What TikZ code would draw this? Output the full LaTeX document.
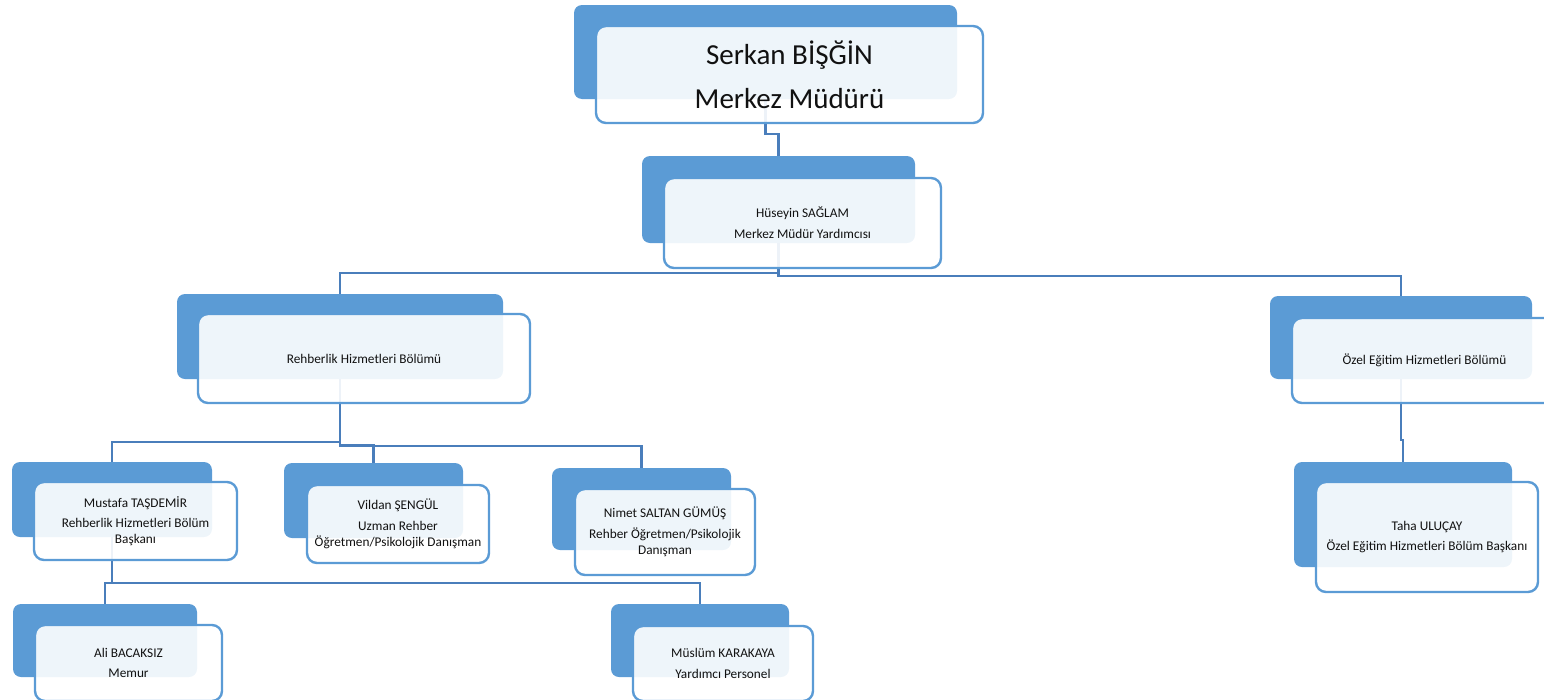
\documentclass[tikz,border=0pt]{standalone}
\usepackage{fontspec}
\setmainfont{Carlito}
\usetikzlibrary{backgrounds}
\definecolor{boxblue}{HTML}{5B9BD5}
\definecolor{linkblue}{HTML}{4A7EBB}
\definecolor{txt}{HTML}{111111}
\tikzset{
  backbox/.style={rectangle, rounded corners=8pt, fill=boxblue, draw=none, inner sep=0pt},
  frontbox/.style={rectangle, rounded corners=10pt, draw=boxblue, line width=2.4pt,
     fill=white, fill opacity=0.9, text opacity=1, text=txt, align=center, inner sep=0pt,
     font=\fontsize{13.3}{16}\selectfont},
  bigtext/.style={font=\fontsize{29}{35}\selectfont},
  link/.style={draw=linkblue, line width=2.6pt},
}
\begin{document}
\begin{tikzpicture}[x=1pt,y=-1pt]
\useasboundingbox (0,0) rectangle (1544,699);
\clip (0,0) rectangle (1544,699);
% Serkan
\node[backbox, minimum width=383, minimum height=94] (b1) at (765.5,52) {};
\node[frontbox, bigtext, minimum width=387, minimum height=97] (f1) at (789.5,74.5)
  {Serkan BİŞĞİN\\[9pt]Merkez Müdürü};
% Huseyin
\node[backbox, minimum width=273, minimum height=87] (b2) at (778.5,199.5) {};
\node[frontbox, minimum width=277, minimum height=90] (f2) at (802.5,223)
  {Hüseyin SAĞLAM\\[5pt]Merkez Müdür Yardımcısı};
% Rehberlik
\node[backbox, minimum width=326, minimum height=85] (b3) at (340,336.5) {};
\node[frontbox, minimum width=332, minimum height=89] (f3) at (364,358.5)
  {Rehberlik Hizmetleri Bölümü};
% Ozel
\node[backbox, minimum width=262, minimum height=83] (b4) at (1401,337.5) {};
\node[frontbox, minimum width=265, minimum height=85] (f4) at (1424.5,360.5)
  {Özel Eğitim Hizmetleri Bölümü};
% Mustafa
\node[backbox, minimum width=200, minimum height=75] (b5) at (112,499.5) {};
\node[frontbox, minimum width=203, minimum height=78] (f5) at (135.5,521)
  {Mustafa TAŞDEMİR\\[4pt]Rehberlik Hizmetleri Bölüm\\Başkanı};
% Vildan
\node[backbox, minimum width=179, minimum height=75] (b6) at (373.5,500.5) {};
\node[frontbox, minimum width=182, minimum height=78] (f6) at (398,524)
  {Vildan ŞENGÜL\\[5pt]Uzman Rehber\\Öğretmen/Psikolojik Danışman};
% Nimet
\node[backbox, minimum width=179, minimum height=82] (b7) at (641.5,509) {};
\node[frontbox, minimum width=180, minimum height=86] (f7) at (665,532)
  {Nimet SALTAN GÜMÜŞ\\[5pt]Rehber Öğretmen/Psikolojik\\Danışman};
% Taha
\node[backbox, minimum width=218, minimum height=105] (b8) at (1403,514.5) {};
\node[frontbox, minimum width=222, minimum height=110] (f8) at (1427,537)
  {Taha ULUÇAY\\[4pt]Özel Eğitim Hizmetleri Bölüm Başkanı};
% Ali
\node[backbox, minimum width=184, minimum height=73] (b9) at (105,640.5) {};
\node[frontbox, minimum width=187, minimum height=76] (f9) at (128.5,663)
  {Ali BACAKSIZ\\[4pt]Memur};
% Muslum
\node[backbox, minimum width=178, minimum height=73] (b10) at (700,640.5) {};
\node[frontbox, minimum width=180, minimum height=75] (f10) at (723,663.5)
  {Müslüm KARAKAYA\\[5pt]Yardımcı Personel};
% connectors
\begin{pgfonlayer}{background}
\coordinate (j12) at (0,134);
\coordinate (j23) at (0,273);
\coordinate (j24) at (0,276);
\coordinate (j35) at (0,442);
\coordinate (j36) at (0,445);
\coordinate (j37) at (0,446);
\coordinate (j48) at (0,440);
\coordinate (j59) at (0,583);
\coordinate (j510) at (0,583);
\draw[link] (b1.south) -- (b1.south |- j12) -| (b2.north);
\draw[link] (b2.south) -- (b2.south |- j23) -| (b3.north);
\draw[link] (b2.south) -- (b2.south |- j24) -| (b4.north);
\draw[link] (b3.south) -- (b3.south |- j35) -| (b5.north);
\draw[link] (b3.south) -- (b3.south |- j36) -| (b6.north);
\draw[link] (b3.south) -- (b3.south |- j37) -| (b7.north);
\draw[link] (b4.south) -- (b4.south |- j48) -| (b8.north);
\draw[link] (b5.south) -- (b5.south |- j59) -| (b9.north);
\draw[link] (b5.south) -- (b5.south |- j510) -| (b10.north);
\end{pgfonlayer}
\end{tikzpicture}
\end{document}
